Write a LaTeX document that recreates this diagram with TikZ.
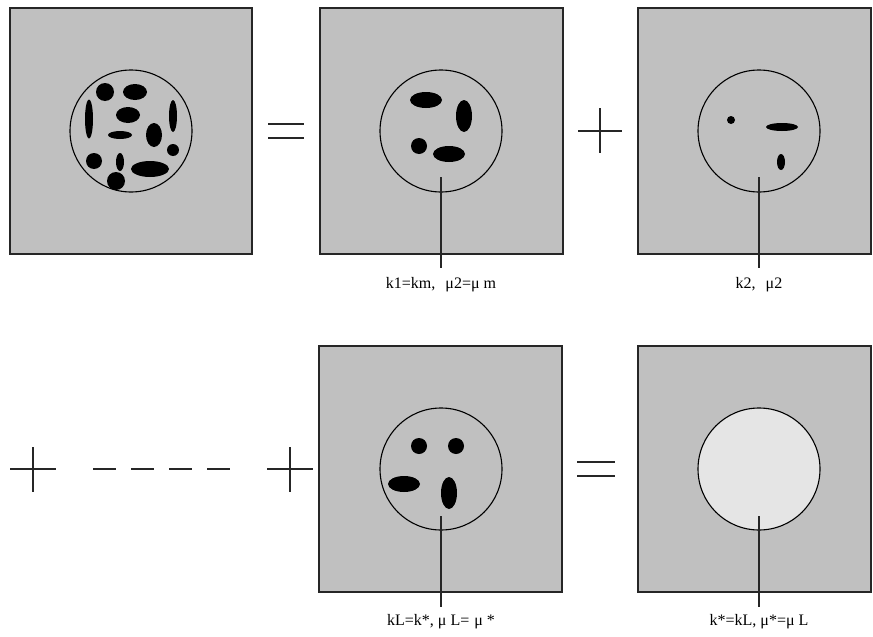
\documentclass[tikz,border=0pt]{standalone}
\usepackage{fontspec}
\setmainfont{Liberation Serif}
\begin{document}
\begin{tikzpicture}[x=1pt,y=-1pt,
  panel/.style={fill={rgb,255:red,192;green,192;blue,192},draw=black!85,line width=1.3pt},
  incl/.style={draw=black,line width=1.1pt},
  blob/.style={fill=black},
  sym/.style={draw=black!85,line width=1.3pt},
  lead/.style={draw=black!85,line width=1.2pt},
  lab/.style={font=\fontsize{16}{18}\selectfont,inner sep=0pt,anchor=north}]
\useasboundingbox (0,0) rectangle (873,637);
% ---------- row 1 ----------
\path[panel] (10,8) rectangle (252,254);
\path[incl] (131,131) circle (61);
\fill[blob] (105,92) ellipse (9 and 9);
\fill[blob] (135,92) ellipse (12 and 8);
\fill[blob] (89,119) ellipse (4 and 19.5);
\fill[blob] (128,115) ellipse (12 and 8);
\fill[blob] (120,135) ellipse (12 and 4);
\fill[blob] (154,135) ellipse (8 and 12);
\fill[blob] (173,116) ellipse (4 and 16);
\fill[blob] (173,150) ellipse (6 and 6);
\fill[blob] (94,161) ellipse (8 and 8);
\fill[blob] (120,162) ellipse (4 and 9);
\fill[blob] (150,169) ellipse (19 and 8);
\fill[blob] (116,181) ellipse (9 and 9);

\draw[sym] (268,124) -- (304,124) (268,138) -- (304,138);

\path[panel] (320,8) rectangle (563,254);
\path[incl] (441,131) circle (61);
\fill[blob] (426,100) ellipse (16 and 8);
\fill[blob] (464,116) ellipse (8 and 16);
\fill[blob] (419,146) ellipse (8 and 8);
\fill[blob] (449,154) ellipse (16 and 8);
\coordinate (p2) at (441,177);
\node[lab] (l2) at (441,277) {k1=km,\hspace{10pt}μ2=μ m};
\draw[lead] (p2) -- (441,268);

\draw[sym] (578,131) -- (622,131) (600,108) -- (600,153);

\path[panel] (638,8) rectangle (871,254);
\path[incl] (759,131) circle (61);
\fill[blob] (731,120) ellipse (4 and 4);
\fill[blob] (782,127) ellipse (16 and 4);
\fill[blob] (781,162) ellipse (4 and 8);
\coordinate (p3) at (759,177);
\node[lab] (l3) at (759,277) {k2,\hspace{10pt}μ2};
\draw[lead] (p3) -- (759,268);

% ---------- row 2 ----------
\draw[sym] (10,469) -- (56,469) (33,447) -- (33,492);
\draw[sym] (93,469) -- (116,469) (131,469) -- (154,469)
           (169,469) -- (192,469) (207,469) -- (230,469);
\draw[sym] (267,469) -- (313,469) (290,447) -- (290,492);

\path[panel] (319,346) rectangle (562,592);
\path[incl] (441,469) circle (61);
\fill[blob] (419,446) ellipse (8 and 8);
\fill[blob] (456,446) ellipse (8 and 8);
\fill[blob] (404,484) ellipse (16 and 8);
\fill[blob] (449,493) ellipse (8 and 16);
\coordinate (p4) at (441,516);
\node[lab] (l4) at (441,614) {kL=k*, μ L=\hspace{5pt}μ *};
\draw[lead] (p4) -- (441,607);

\draw[sym] (577,462) -- (615,462) (577,476) -- (615,476);

\path[panel] (638,346) rectangle (871,592);
\path[draw=black,line width=1.1pt,fill={rgb,255:red,229;green,229;blue,229}] (759,469) circle (61);
\coordinate (p5) at (759,516);
\node[lab] (l5) at (759,614) {k*=kL, μ*=μ L};
\draw[lead] (p5) -- (759,607);
\end{tikzpicture}
\end{document}
